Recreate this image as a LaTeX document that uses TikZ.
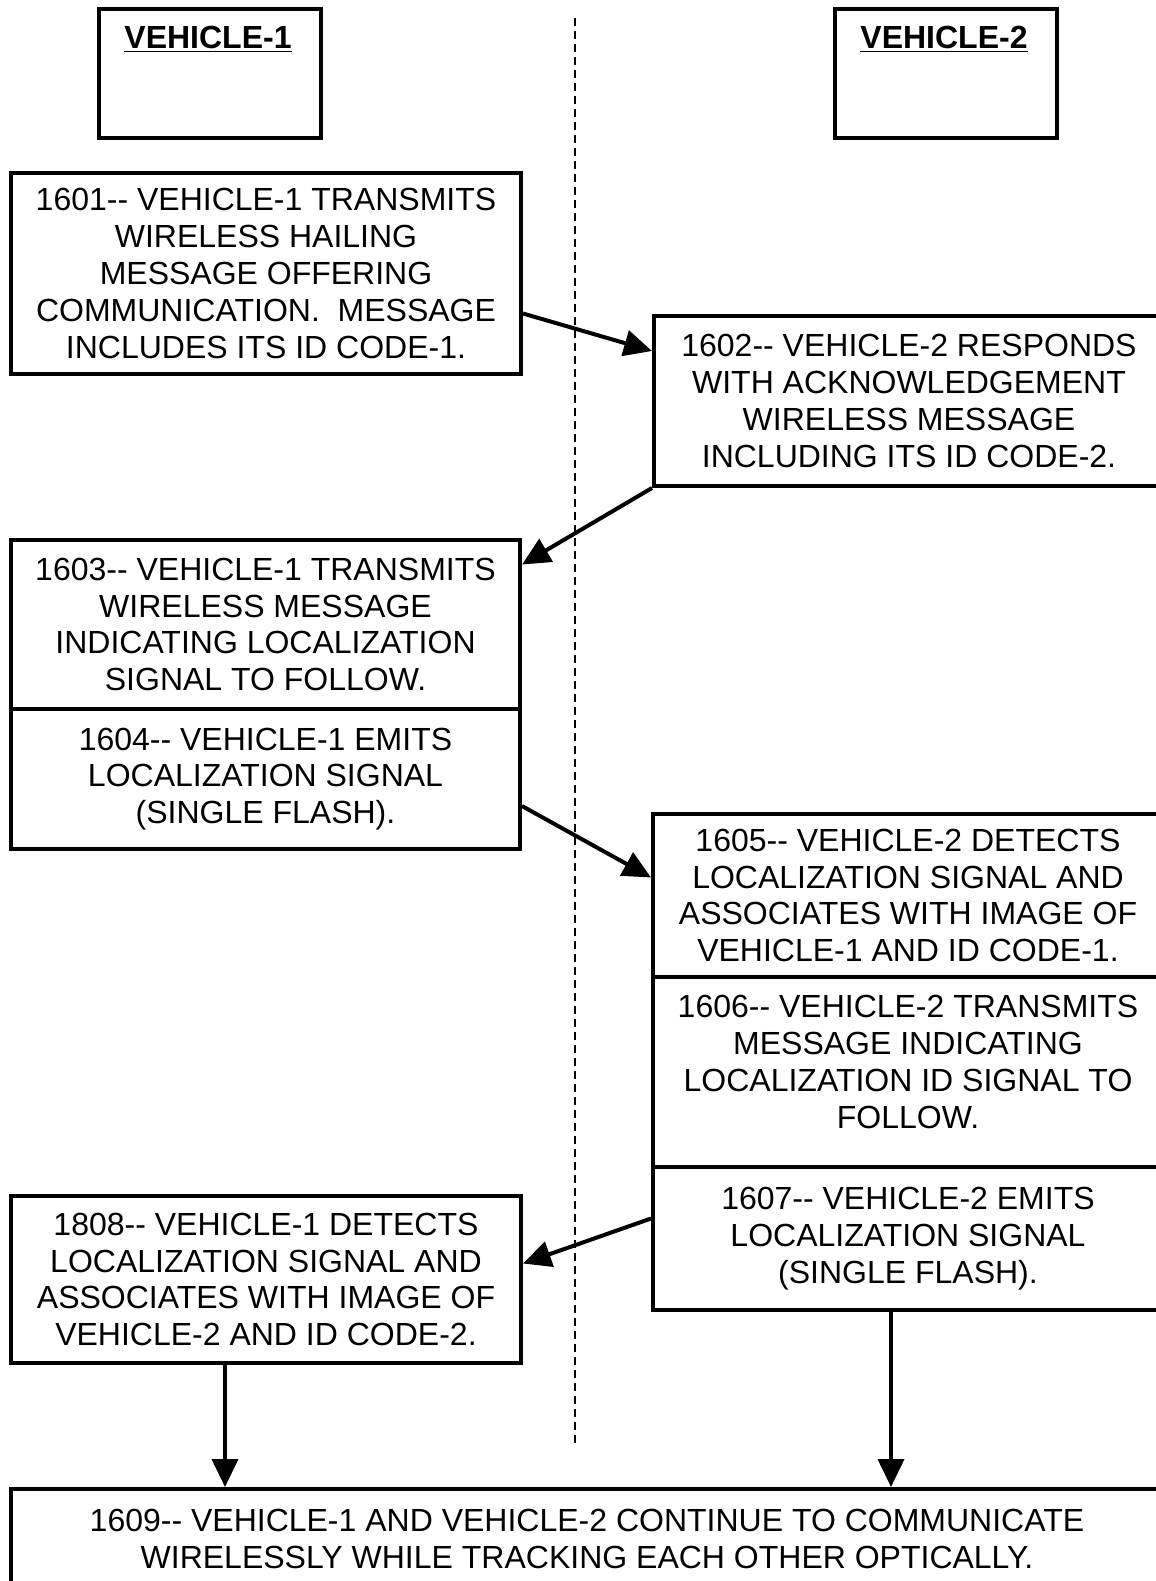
\documentclass[tikz,border=0pt]{standalone}
\usepackage{fontspec}
\setmainfont{Liberation Sans}
\usetikzlibrary{positioning, arrows.meta}

\begin{document}
\begin{tikzpicture}[x=0.5pt,y=-0.5pt,
  box/.style={draw,line width=2pt,anchor=north west,align=center,inner sep=0pt,font=\fontsize{16}{18.4}\selectfont},
  head/.style={font=\fontsize{16}{18.4}\selectfont\bfseries},
  flow/.style={line width=2pt,-{Triangle[length=14pt,width=13pt]}}]
\useasboundingbox (0,0) rectangle (1156,1581);
\clip (0,0) rectangle (1156,1581);
% lane headers
\node[box,minimum width=111pt,minimum height=64.5pt] (veh1) at (97,7) {};
\node[box,minimum width=111pt,minimum height=64.5pt] (veh2) at (833,7) {};
\node[head] (veh1lbl) at (208,39) {\underline{VEHICLE-1}};
\node[head] (veh2lbl) at (944,39) {\underline{VEHICLE-2}};
\coordinate (laneTop) at (575,18);
\coordinate (laneBot) at (575,1443);
\draw[line width=1.3pt,dash pattern=on 4pt off 2.5pt] (laneTop) -- (laneBot);
% steps
\node[box,minimum width=255pt,minimum height=100.5pt] (b1601) at (9,171) {1601-{}- VEHICLE-1 TRANSMITS\\WIRELESS HAILING\\MESSAGE OFFERING\\COMMUNICATION.\ \ MESSAGE\\INCLUDES ITS ID CODE-1.};
\node[box,minimum width=255pt,minimum height=85pt] (b1602) at (652,314) {1602-{}- VEHICLE-2 RESPONDS\\WITH ACKNOWLEDGEMENT\\WIRELESS MESSAGE\\INCLUDING ITS ID CODE-2.};
\node[box,minimum width=254.5pt,minimum height=84.5pt] (b1603) at (9,538) {1603-{}- VEHICLE-1 TRANSMITS\\WIRELESS MESSAGE\\INDICATING LOCALIZATION\\SIGNAL TO FOLLOW.};
\node[box,minimum width=254.5pt,minimum height=70pt] (b1604) at (9,707) {1604-{}- VEHICLE-1 EMITS\\LOCALIZATION SIGNAL\\(SINGLE FLASH).};
\node[box,minimum width=255pt,minimum height=81.5pt] (b1605) at (651,812) {1605-{}- VEHICLE-2 DETECTS\\LOCALIZATION SIGNAL AND\\ASSOCIATES WITH IMAGE OF\\VEHICLE-1 AND ID CODE-1.};
\node[box,minimum width=255pt,minimum height=95pt] (b1606) at (651,975) {};
\node[align=center,inner sep=0pt,font=\fontsize{16}{18.4}\selectfont] (t1606) at ([yshift=5pt]b1606.center) {1606-{}- VEHICLE-2 TRANSMITS\\MESSAGE INDICATING\\LOCALIZATION ID SIGNAL TO\\FOLLOW.};
\node[box,minimum width=255pt,minimum height=71.5pt] (b1607) at (651,1165) {1607-{}- VEHICLE-2 EMITS\\LOCALIZATION SIGNAL\\(SINGLE FLASH).};
\node[box,minimum width=255pt,minimum height=83.5pt] (b1808) at (9,1194) {1808-{}- VEHICLE-1 DETECTS\\LOCALIZATION SIGNAL AND\\ASSOCIATES WITH IMAGE OF\\VEHICLE-2 AND ID CODE-2.};
\node[box,minimum width=576pt,minimum height=50pt] (b1609) at (9,1487) {1609-{}- VEHICLE-1 AND VEHICLE-2 CONTINUE TO COMMUNICATE\\WIRELESSLY WHILE TRACKING EACH OTHER OPTICALLY.};
% messages
\draw[flow] ([yshift=-20pt]b1601.east) -- ([yshift=25pt]b1602.west);
\draw[flow] (b1602.south west) -- ([yshift=30pt]b1603.east);
\draw[flow] ([yshift=-13.5pt]b1604.east) -- ([yshift=9pt]b1605.west);
\draw[flow] ([yshift=10pt]b1607.west) -- ([yshift=8pt]b1808.east);
\draw[flow] ([xshift=-20.5pt]b1808.south) -- ([xshift=-20.5pt]b1808.south |- b1609.north);
\draw[flow] ([xshift=-8.5pt]b1607.south) -- ([xshift=-8.5pt]b1607.south |- b1609.north);
\end{tikzpicture}
\end{document}
